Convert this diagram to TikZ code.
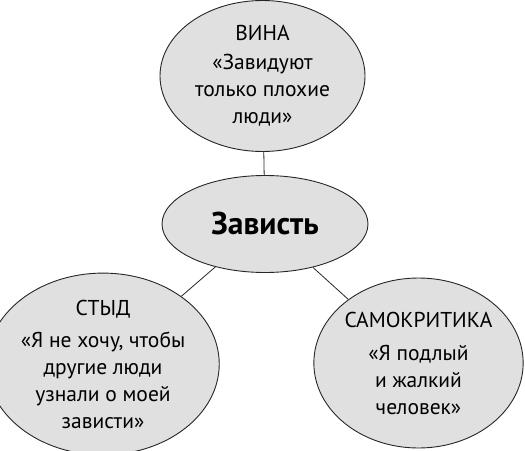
\documentclass[tikz,border=0pt]{standalone}
\usepackage{fontspec}
\setmainfont{PT Sans}
\usetikzlibrary{shapes.geometric}
\tikzset{
  bubble/.style={ellipse, draw=black!85, line width=0.9pt, fill=black!12, inner sep=0pt, align=center,
    font=\fontsize{21.5}{27}\selectfont, text=black},
  conn/.style={draw=black!85, line width=0.8pt}
}
\begin{document}
\begin{tikzpicture}[x=1pt,y=1pt]
\useasboundingbox (0,0) rectangle (525,-450);
\node[bubble, minimum width=205, minimum height=151] (vina) at (262.5,-76) {ВИНА\\[2pt]«Завидуют\\только плохие\\люди»};
\node[bubble, minimum width=206, minimum height=97, font=\fontsize{31.5}{34}\bfseries\selectfont] (zav) at (265,-224) {Зависть};
\node[bubble, minimum width=206, minimum height=168] (styd) at (103,-364) {СТЫД\\[5pt]«Я не хочу, чтобы\\другие люди\\узнали о моей\\зависти»};
\node[bubble, minimum width=206, minimum height=170] (samo) at (418.5,-363) {САМОКРИТИКА\\[6pt]«Я подлый\\и жалкий\\человек»};
\draw[conn] (vina) -- (zav);
\draw[conn] (zav) -- (styd);
\draw[conn] (zav) -- (samo);
\end{tikzpicture}
\end{document}
